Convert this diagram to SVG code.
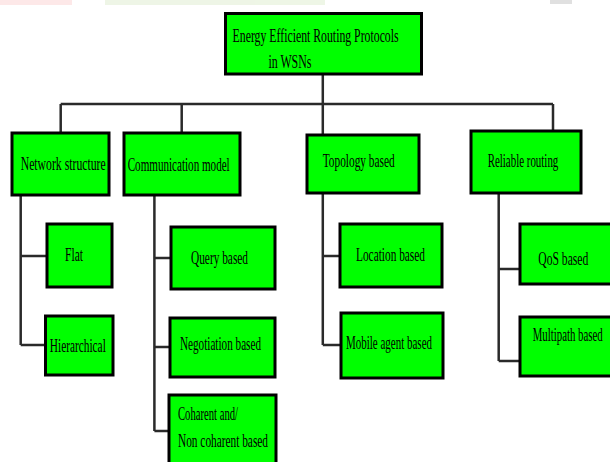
<svg xmlns="http://www.w3.org/2000/svg" width="610" height="462" viewBox="0 0 610 462">
<style>
.box{fill:#00ff00;stroke:#000;stroke-width:3}
.lbl{font-family:"Liberation Serif","Times New Roman",serif;font-size:19px;fill:#000}
.con{stroke:#2a2a2a;stroke-width:2.5;fill:none}
</style>
<rect width="610" height="462" fill="#fff"/>
<g id="watermark" opacity="0.6">
<rect x="0" y="0" width="72" height="5" fill="#fcd9d9"/>
<rect x="105" y="0" width="220" height="5" fill="#e3f0d6"/>
<rect x="550" y="0" width="22" height="4" fill="#ccc"/>
</g>
<g id="connectors">
<path class="con" d="M322.8,74 V104 M60.7,104 H553 M60.7,104 V133 M181.7,104 V133 M322.8,104 V135 M553,104 V131"/>
<path class="con" d="M20.7,195 V345 M20.7,256 H47 M20.7,345 H45.5"/>
<path class="con" d="M154.4,195 V431 M154.4,258 H171 M154.4,347 H170 M154.4,431 H169"/>
<path class="con" d="M322.8,193 V345 M322.8,256 H340 M322.8,345 H341"/>
<path class="con" d="M498.7,193 V361 M498.7,269 H520 M498.7,361 H520"/>
</g>
<g id="root">
<rect class="box" x="225.5" y="13.5" width="196" height="60.5"/>
<text class="lbl" x="232.6" y="42" textLength="166" lengthAdjust="spacingAndGlyphs">Energy Efficient Routing Protocols</text>
<text class="lbl" x="268.4" y="68" textLength="43" lengthAdjust="spacingAndGlyphs">in WSNs</text>
</g>
<g id="network-structure">
<rect class="box" x="12" y="133" width="97" height="62"/>
<text class="lbl" x="20.7" y="170" textLength="85" lengthAdjust="spacingAndGlyphs">Network structure</text>
</g>
<g id="communication-model">
<rect class="box" x="124" y="133" width="116" height="62"/>
<text class="lbl" x="127.7" y="171" textLength="102" lengthAdjust="spacingAndGlyphs">Communication model</text>
</g>
<g id="topology-based">
<rect class="box" x="307" y="135" width="112" height="58"/>
<text class="lbl" x="322.7" y="167" textLength="72" lengthAdjust="spacingAndGlyphs">Topology based</text>
</g>
<g id="reliable-routing">
<rect class="box" x="471" y="131" width="110" height="62"/>
<text class="lbl" x="487.7" y="167" textLength="70.6" lengthAdjust="spacingAndGlyphs">Reliable routing</text>
</g>
<g id="flat">
<rect class="box" x="47" y="224" width="65" height="63"/>
<text class="lbl" x="65" y="261" textLength="18" lengthAdjust="spacingAndGlyphs">Flat</text>
</g>
<g id="hierarchical">
<rect class="box" x="45.5" y="316" width="67.5" height="59"/>
<text class="lbl" x="49.8" y="352" textLength="56" lengthAdjust="spacingAndGlyphs">Hierarchical</text>
</g>
<g id="query-based">
<rect class="box" x="171" y="227" width="104" height="62"/>
<text class="lbl" x="191" y="264" textLength="57" lengthAdjust="spacingAndGlyphs">Query based</text>
</g>
<g id="negotiation-based">
<rect class="box" x="170" y="318" width="105" height="59"/>
<text class="lbl" x="180" y="350" textLength="81" lengthAdjust="spacingAndGlyphs">Negotiation based</text>
</g>
<g id="coharent-based">
<rect class="box" x="169" y="395" width="107" height="72"/>
<text class="lbl" x="178" y="420" textLength="60" lengthAdjust="spacingAndGlyphs">Coharent and/</text>
<text class="lbl" x="178" y="447" textLength="90" lengthAdjust="spacingAndGlyphs">Non coharent based</text>
</g>
<g id="location-based">
<rect class="box" x="340" y="224" width="102" height="63"/>
<text class="lbl" x="356" y="261" textLength="69" lengthAdjust="spacingAndGlyphs">Location based</text>
</g>
<g id="mobile-agent-based">
<rect class="box" x="341" y="313" width="102" height="65"/>
<text class="lbl" x="346" y="349" textLength="86" lengthAdjust="spacingAndGlyphs">Mobile agent based</text>
</g>
<g id="qos-based">
<rect class="box" x="520" y="224" width="94" height="60"/>
<text class="lbl" x="538.3" y="265" textLength="50" lengthAdjust="spacingAndGlyphs">QoS based</text>
</g>
<g id="multipath-based">
<rect class="box" x="520" y="317" width="94" height="59"/>
<text class="lbl" x="532.7" y="341" textLength="70" lengthAdjust="spacingAndGlyphs">Multipath based</text>
</g>
</svg>
